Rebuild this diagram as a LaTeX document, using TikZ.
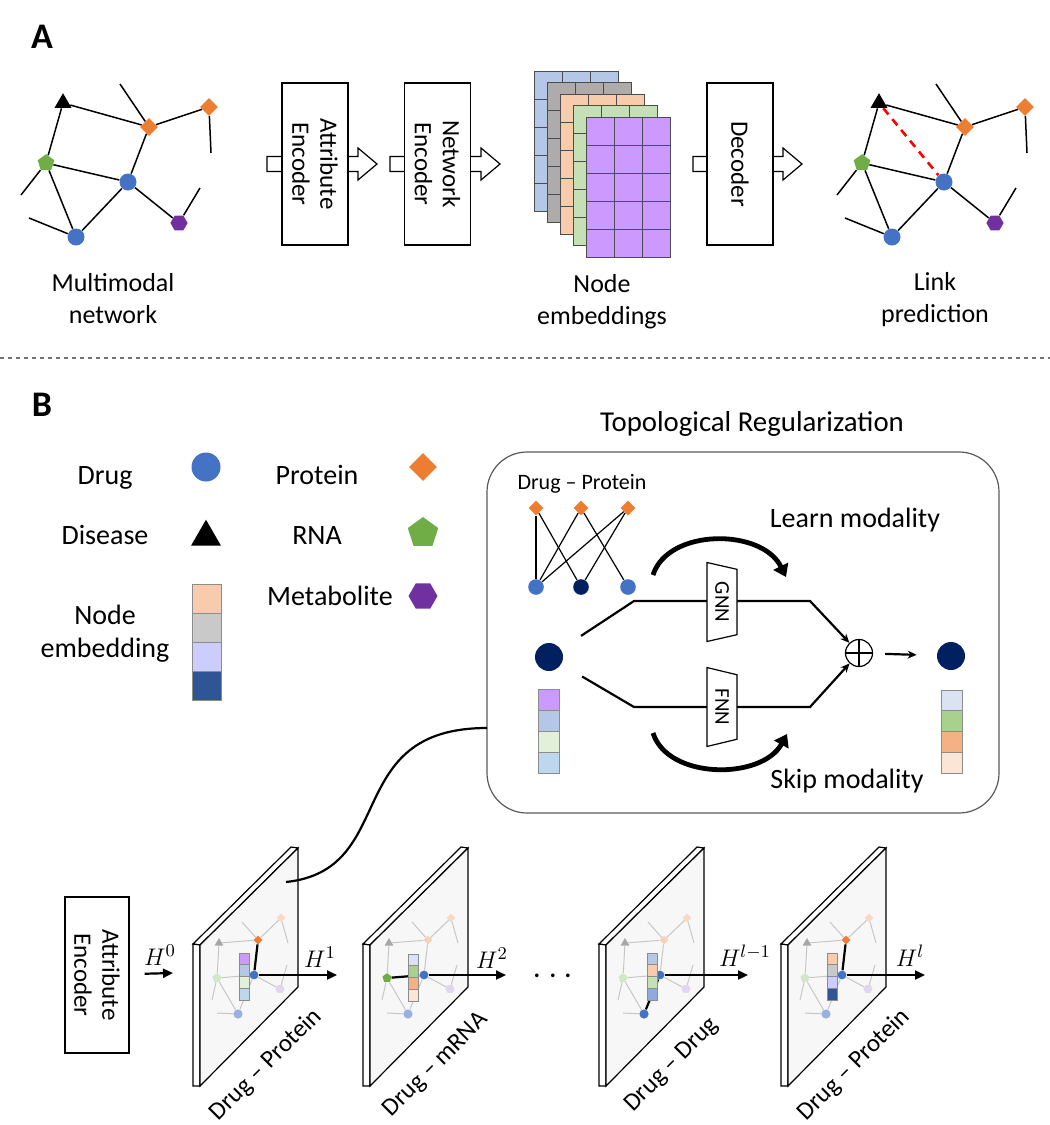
\documentclass[tikz,border=0pt]{standalone}
\usepackage{fontspec}
\setmainfont{Carlito}
\usetikzlibrary{shapes.geometric,arrows.meta,positioning}

\definecolor{drugblue}{HTML}{4472C4}
\definecolor{protorange}{HTML}{ED7D31}
\definecolor{rnagreen}{HTML}{70AD47}
\definecolor{metapurple}{HTML}{7030A0}
\definecolor{navy}{HTML}{002060}
\definecolor{embPeach}{HTML}{F8CBAD}
\definecolor{embGray}{HTML}{C9C9C9}
\definecolor{embLav}{HTML}{CCCCFF}
\definecolor{embDark}{HTML}{2F5597}
\definecolor{inPurple}{HTML}{CC99FF}
\definecolor{inBlue}{HTML}{B4C7E7}
\definecolor{inGreen}{HTML}{E2F0D9}
\definecolor{inLtBlue}{HTML}{BDD7EE}
\definecolor{outBlue}{HTML}{DAE3F3}
\definecolor{outGreen}{HTML}{A9D18E}
\definecolor{outOrange}{HTML}{F4B183}
\definecolor{outPeach}{HTML}{FBE5D6}
\definecolor{stGray}{HTML}{AFABAB}
\definecolor{stGreen}{HTML}{C5E0B4}
\definecolor{midBlue}{HTML}{8FAADC}

% column of embedding cells: x, top y, width, cell height, colours
\newcommand{\embcol}[5]{%
  \foreach \cl [count=\k from 0] in {#5}
    \draw[fill=\cl, draw=black!45, line width=0.4pt] (#1,{#2+\k*#4}) rectangle ++(#3,#4);%
}
% open block arrow behind a box: tail x, tip x, centre y
\newcommand{\blockarrow}[3]{%
  \draw[line width=0.6pt, fill=white] (#1,#3-7.5) -- (#2-19,#3-7.5) -- (#2-19,#3-16)
    -- (#2,#3) -- (#2-19,#3+16) -- (#2-19,#3+7.5) -- (#1,#3+7.5) -- cycle;%
}

\begin{document}
\begin{tikzpicture}[x=0.5pt, y=-0.5pt,
    edge/.style={line width=0.75pt},
    drug/.style={circle, fill=drugblue, inner sep=0pt, minimum size=8.5pt},
    prot/.style={diamond, fill=protorange, inner sep=0pt, minimum size=9pt},
    dis/.style={regular polygon, regular polygon sides=3, fill=black, inner sep=0pt, minimum size=9.8pt},
    rna/.style={regular polygon, regular polygon sides=5, fill=rnagreen, inner sep=0pt, minimum size=8.8pt},
    meta/.style={regular polygon, regular polygon sides=6, fill=metapurple, inner sep=0pt, minimum size=8.6pt},
    encbox/.style={draw, fill=white, line width=0.6pt, rotate=-90, align=center,
        font=\fontsize{12.5}{14}\selectfont, minimum width=81pt, minimum height=33pt},
    lbl/.style={align=center, font=\fontsize{13}{16}\selectfont},
    leg/.style={font=\fontsize{14}{16.5}\selectfont, anchor=base},
    hlbl/.style={font=\fontsize{13}{15}\selectfont},
    faint/.style={draw=black!22, line width=0.5pt},
    hot/.style={line width=1.1pt},
    harrow/.style={line width=1.1pt, -{Triangle[length=5pt,width=4.5pt]}},
    flow/.style={line width=1.1pt},
    bendarrow/.style={line width=2.4pt, -{Triangle[length=6pt,width=8pt]}},
    nn/.style={trapezium, draw, fill=white, rotate=-90, trapezium angle=73,
        trapezium stretches=true, minimum width=39.5pt, minimum height=15pt,
        inner sep=0pt, line width=0.6pt, font=\fontsize{10.5}{12}\selectfont},
]
\useasboundingbox (0,0) rectangle (1050,1125);

% ---------------- Panel A ----------------
\node[font=\fontsize{18}{20}\selectfont\bfseries] (panA) at (42,37) {A};

% input and predicted networks
\foreach \dx/\p in {0/in,816/out}{
  \node[dis]  (\p T) at (63+\dx,103)  {};
  \node[prot] (\p D) at (149+\dx,127) {};
  \node[prot] (\p S) at (209+\dx,107) {};
  \node[rna]  (\p P) at (46+\dx,163)  {};
  \node[drug] (\p C) at (128+\dx,182) {};
  \node[drug] (\p L) at (76+\dx,237)  {};
  \node[meta] (\p H) at (179+\dx,223) {};
  \coordinate (\p d1) at (120+\dx,84);
  \coordinate (\p d2) at (211+\dx,153);
  \coordinate (\p d3) at (21+\dx,195);
  \coordinate (\p d4) at (29+\dx,218);
  \coordinate (\p d5) at (200+\dx,188);
  \foreach \a/\b in {T/D,T/P,D/S,D/C,P/C,P/L,C/L,C/H,D/d1,S/d2,P/d3,L/d4,H/d5}
    \draw[edge] (\p\a) -- (\p\b);
}
\draw[red, line width=1.3pt, dash pattern=on 4pt off 3pt] (outT) -- (outC);

% encoders and decoder
\blockarrow{267}{377}{164}
\blockarrow{390}{500}{164}
\blockarrow{693}{802}{164}
\node[encbox] (attrA) at (315,164) {Attribute\\Encoder};
\node[encbox] (netA) at (437.5,164) {Network\\Encoder};
\node[encbox] (decA) at (740,164) {Decoder};

% stacked node embeddings
\foreach \cl [count=\i from 0] in {inBlue,stGray,embPeach,stGreen,inPurple}
  \foreach \r in {0,...,4}
    \foreach \q in {0,1,2}
      \draw[fill=\cl, draw=black!70, line width=0.5pt]
        ({534+13*\i+28.3*\q},{71+11.6*\i+28*\r}) rectangle ++(28.3,28);

\node[lbl] (mmLbl) at (113,299) {Multimodal\\network};
\node[lbl] (neLbl) at (602,302) {Node\\embeddings};
\node[lbl] (lpLbl) at (935,300) {Link\\prediction};

\draw[black!55, line width=0.6pt, dash pattern=on 2pt off 2pt] (0,358) -- (1050,358);

% ---------------- Panel B ----------------
\node[font=\fontsize{18}{20}\selectfont\bfseries] (panB) at (42,405) {B};

% legend
\node[leg] (lgDrug) at (105,484) {Drug};
\node[drug, minimum size=14.5pt] (symDrug) at (206,467) {};
\node[leg] (lgDis) at (105,544) {Disease};
\node[dis, minimum size=17.3pt] (symDis) at (206,537) {};
\node[align=center, font=\fontsize{14}{16.5}\selectfont] (lgEmb) at (105,634) {Node\\embedding};
\embcol{192}{584}{29}{29}{embPeach,embGray,embLav,embDark}
\node[leg] (lgProt) at (317,484) {Protein};
\node[prot, minimum size=14pt] (symProt) at (423,467) {};
\node[leg] (lgRNA) at (317,544) {RNA};
\node[rna, minimum size=16pt] (symRNA) at (423,533) {};
\node[leg] (lgMeta) at (330,605) {Metabolite};
\node[meta, minimum size=14.5pt] (symMeta) at (423,596) {};

% topological regularization box
\node[font=\fontsize{14.4}{17}\selectfont, anchor=base] (topoTitle) at (752,431) {Topological Regularization};
\node[draw=black!65, line width=0.6pt, rounded corners=20pt, minimum width=256pt,
      minimum height=180.5pt] (topo) at (743,632.5) {};

\node[font=\fontsize{11}{13}\selectfont, anchor=base] (bpLbl) at (582,489) {Drug \textendash{} Protein};
\node[prot, minimum size=7.5pt] (bd1) at (536,508) {};
\node[prot, minimum size=7.5pt] (bd2) at (581,508) {};
\node[prot, minimum size=7.5pt] (bd3) at (628,508) {};
\node[drug, minimum size=7.8pt] (bc1) at (536,587) {};
\node[drug, fill=navy, minimum size=7.8pt] (bc2) at (581,587) {};
\node[drug, minimum size=7.8pt] (bc3) at (628,587) {};
\foreach \a/\b in {1/1,1/2,2/1,2/3,3/1,3/2}
  \draw[line width=0.6pt] (bd\a) -- (bc\b);

\node[drug, fill=navy, minimum size=14pt] (xin) at (549,657) {};
\embcol{538}{689}{21}{21}{inPurple,inBlue,inGreen,inLtBlue}
\node[drug, fill=navy, minimum size=14pt] (xout) at (951,656) {};
\embcol{941}{690}{21}{20.75}{outBlue,outGreen,outOrange,outPeach}

\node[circle, draw, line width=0.6pt, minimum size=13.5pt, inner sep=0pt,
      path picture={\draw[line width=0.6pt]
        (path picture bounding box.north) -- (path picture bounding box.south)
        (path picture bounding box.west) -- (path picture bounding box.east);}] (plus) at (859,653) {};

\coordinate (gUp) at (634,601);
\coordinate (gUpR) at (810,601);
\coordinate (gLo) at (634,707);
\coordinate (gLoR) at (810,707);
\draw[flow, shorten <=12pt, -{Stealth[length=4.5pt,width=4pt]}] (xin) -- (gUp) -- (gUpR) -- (plus);
\draw[flow, shorten <=12pt, -{Stealth[length=4.5pt,width=4pt]}] (xin) -- (gLo) -- (gLoR) -- (plus);
\node[nn] (gnn) at (722,602) {GNN};
\node[nn] (fnn) at (722,707) {FNN};
\draw[flow, shorten <=6pt, shorten >=10pt, -{Stealth[length=4.5pt,width=4pt]}] (plus) -- (xout);

\coordinate (lrnA) at (653,575);
\coordinate (lrnB) at (786,577);
\draw[bendarrow] (lrnA) .. controls (668,528) and (762,528) .. (lrnB);
\node[font=\fontsize{14}{16}\selectfont, anchor=base] (lrnLbl) at (855,527) {Learn modality};
\coordinate (skpA) at (653,733);
\coordinate (skpB) at (787,734);
\draw[bendarrow] (skpA) .. controls (668,780) and (762,780) .. (skpB);
\node[font=\fontsize{14}{16}\selectfont, anchor=base] (skpLbl) at (847,788) {Skip modality};

% layer stack
\node[encbox, minimum width=78pt, minimum height=32pt] (attrB) at (97,975) {Attribute\\Encoder};
\coordinate (h0e) at (173,973);
\draw[harrow, shorten <=7.5pt] (attrB) -- (h0e);
\node[hlbl] (h0lbl) at (160,955) {$H^{0}$};

\foreach \i/\x/\cD/\cP/\cL/\hA/\lab in {
    1/200/protorange/rnagreen!30/drugblue!55/D/{Drug \textendash{} Protein},
    2/370/protorange!35/rnagreen/drugblue!55/P/{Drug \textendash{} mRNA},
    3/606/protorange!35/rnagreen!30/drugblue/L/{Drug \textendash{} Drug},
    4/788/protorange/rnagreen!30/drugblue!55/D/{Drug \textendash{} Protein}}{
  % plane with thickness
  \draw[fill=white, line width=0.6pt] (\x-7,944) -- (\x+91,847) -- (\x+98,848) -- (\x,945) -- cycle;
  \draw[fill=white, line width=0.6pt] (\x-7,944) -- (\x,945) -- (\x,1086) -- (\x-7,1086) -- cycle;
  \draw[fill=black!3, line width=0.6pt] (\x,945) -- (\x+98,848) -- (\x+98,987) -- (\x,1086) -- cycle;
  % small network on the plane
  \node[dis, fill=black!35, minimum size=5pt] (l\i T) at (\x+19,943) {};
  \node[prot, fill=\cD, minimum size=4.5pt] (l\i D) at (\x+58,940) {};
  \node[prot, fill=protorange!30, minimum size=4.5pt] (l\i S) at (\x+81,918) {};
  \node[rna, fill=\cP, minimum size=4.8pt] (l\i P) at (\x+17,978) {};
  \node[drug, minimum size=4.4pt] (l\i C) at (\x+54,975) {};
  \node[drug, fill=\cL, minimum size=4.6pt] (l\i L) at (\x+38,1014) {};
  \node[meta, fill=metapurple!20, minimum size=4.6pt] (l\i H) at (\x+80,989) {};
  \coordinate (l\i d1) at (\x+42,922);
  \coordinate (l\i d2) at (\x+88,943);
  \coordinate (l\i d3) at (\x+12,1000);
  \coordinate (l\i d4) at (\x+17,1013);
  \coordinate (l\i d5) at (\x+87,965);
  \foreach \a/\b in {T/D,T/P,D/S,D/C,P/C,P/L,C/L,C/H,D/d1,S/d2,P/d3,L/d4,H/d5}
    \draw[faint] (l\i\a) -- (l\i\b);
  \draw[hot] (l\i\hA) -- (l\i C);
  \node[rotate=45, font=\fontsize{12.5}{14}\selectfont] (l\i lbl) at (\x+66,1065) {\lab};
}

\embcol{239}{953}{10}{11.75}{inPurple,inBlue,inGreen,inLtBlue}
\embcol{408}{954}{10}{11.75}{outBlue,outGreen,outOrange,outPeach}
\embcol{647}{953}{10}{11.75}{inBlue,embPeach,stGreen,midBlue}
\embcol{827}{953}{10}{11.75}{embPeach,embGray,embLav,embDark}

\coordinate (h1e) at (337,975);
\draw[harrow] (l1C) -- (h1e);
\node[hlbl] (h1lbl) at (320,957) {$H^{1}$};
\coordinate (h2e) at (506,975);
\draw[harrow] (l2C) -- (h2e);
\node[hlbl] (h2lbl) at (492,958) {$H^{2}$};
\node[font=\fontsize{16}{18}\selectfont, anchor=base] (dots) at (553,984) {$\cdots$};
\coordinate (h3e) at (748,975);
\draw[harrow] (l3C) -- (h3e);
\node[hlbl] (h3lbl) at (745,956) {$H^{l-1}$};
\coordinate (h4e) at (925,975);
\draw[harrow] (l4C) -- (h4e);
\node[hlbl] (h4lbl) at (910,956) {$H^{l}$};

% link from first layer to the box
\coordinate (lnkA) at (286,882);
\coordinate (lnkB) at (487,728);
\draw[line width=1.1pt] (lnkA) .. controls (400,870) and (340,728) .. (lnkB);

\end{tikzpicture}
\end{document}
